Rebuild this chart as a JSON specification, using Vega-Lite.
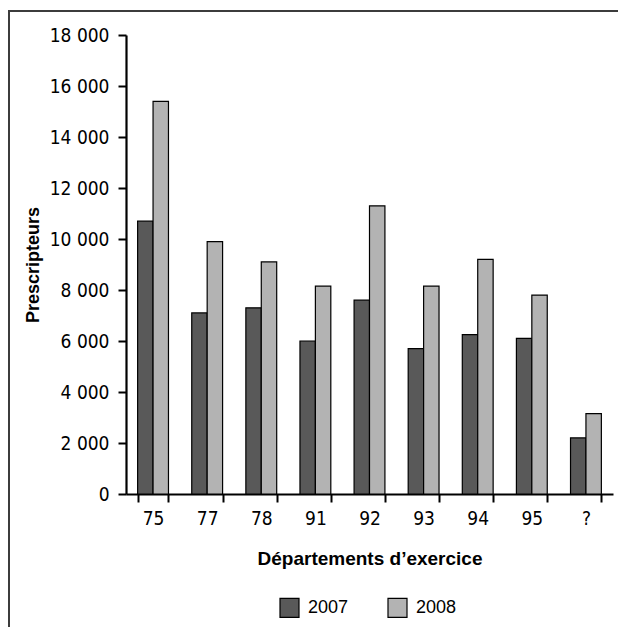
{
  "$schema": "https://vega.github.io/schema/vega-lite/v6.json",
  "width": 609,
  "height": 616,
  "autosize": {"type": "none"},
  "padding": {"left": 9, "top": 11, "right": 0, "bottom": 0},
  "background": "white",
  "view": {"stroke": "#3c3c3c", "strokeWidth": 2, "strokeDash": [609, 1225, 616], "fill": null},
  "config": {
    "locale": {"number": {"decimal": ",", "thousands": " ", "grouping": [3], "currency": ["", " €"]}},
    "font": "Liberation Sans"
  },
  "data": {
    "values": [
      {"dept": "75", "annee": "2007", "prescripteurs": 10700},
      {"dept": "75", "annee": "2008", "prescripteurs": 15400},
      {"dept": "77", "annee": "2007", "prescripteurs": 7100},
      {"dept": "77", "annee": "2008", "prescripteurs": 9900},
      {"dept": "78", "annee": "2007", "prescripteurs": 7300},
      {"dept": "78", "annee": "2008", "prescripteurs": 9100},
      {"dept": "91", "annee": "2007", "prescripteurs": 6000},
      {"dept": "91", "annee": "2008", "prescripteurs": 8150},
      {"dept": "92", "annee": "2007", "prescripteurs": 7600},
      {"dept": "92", "annee": "2008", "prescripteurs": 11300},
      {"dept": "93", "annee": "2007", "prescripteurs": 5700},
      {"dept": "93", "annee": "2008", "prescripteurs": 8150},
      {"dept": "94", "annee": "2007", "prescripteurs": 6250},
      {"dept": "94", "annee": "2008", "prescripteurs": 9200},
      {"dept": "95", "annee": "2007", "prescripteurs": 6100},
      {"dept": "95", "annee": "2008", "prescripteurs": 7800},
      {"dept": "?", "annee": "2007", "prescripteurs": 2200},
      {"dept": "?", "annee": "2008", "prescripteurs": 3150}
    ]
  },
  "mark": {"type": "bar", "stroke": "black", "strokeWidth": 1.2},
  "encoding": {
    "x": {
      "field": "dept",
      "type": "nominal",
      "sort": null,
      "scale": {"range": [117, 604], "paddingInner": 0.43, "paddingOuter": 0.215},
      "axis": {
        "title": "Départements d’exercice",
        "orient": "bottom",
        "offset": -133,
        "labelAngle": 0,
        "tickBand": "extent",
        "grid": false,
        "domainColor": "black",
        "domainWidth": 2.2,
        "tickColor": "black",
        "tickWidth": 2,
        "tickSize": 8,
        "labelFont": "Liberation Sans Narrow, DejaVu Sans Condensed, sans-serif",
        "labelFontSize": 19,
        "labelColor": "black",
        "labelPadding": 7,
        "titleFont": "Liberation Sans",
        "titleFontWeight": "bold",
        "titleFontSize": 19,
        "titleColor": "black",
        "titlePadding": 21
      }
    },
    "xOffset": {"field": "annee", "type": "nominal", "scale": {"paddingInner": 0}},
    "y": {
      "field": "prescripteurs",
      "type": "quantitative",
      "scale": {"domain": [0, 18000], "nice": false, "range": [483, 24]},
      "axis": {
        "title": "Prescripteurs",
        "offset": -117,
        "values": [0, 2000, 4000, 6000, 8000, 10000, 12000, 14000, 16000, 18000],
        "format": ",d",
        "grid": false,
        "domainColor": "black",
        "domainWidth": 2.2,
        "tickColor": "black",
        "tickWidth": 2,
        "tickSize": 8,
        "labelFont": "Liberation Sans Narrow, DejaVu Sans Condensed, sans-serif",
        "labelFontSize": 19,
        "labelColor": "black",
        "labelPadding": 9,
        "titleFont": "Liberation Sans",
        "titleFontWeight": "bold",
        "titleFontSize": 18,
        "titleColor": "black",
        "titlePadding": 7
      }
    },
    "color": {
      "field": "annee",
      "type": "nominal",
      "scale": {"domain": ["2007", "2008"], "range": ["#595959", "#b3b3b3"]},
      "legend": {
        "title": null,
        "orient": "none",
        "legendX": 270,
        "legendY": 586,
        "direction": "horizontal",
        "padding": 0,
        "symbolType": "square",
        "symbolSize": 361,
        "symbolStrokeColor": "black",
        "symbolStrokeWidth": 1.2,
        "symbolOpacity": 1,
        "labelFont": "Liberation Sans",
        "labelFontSize": 18,
        "labelColor": "black",
        "labelOffset": 8,
        "columnPadding": 36
      }
    }
  }
}
